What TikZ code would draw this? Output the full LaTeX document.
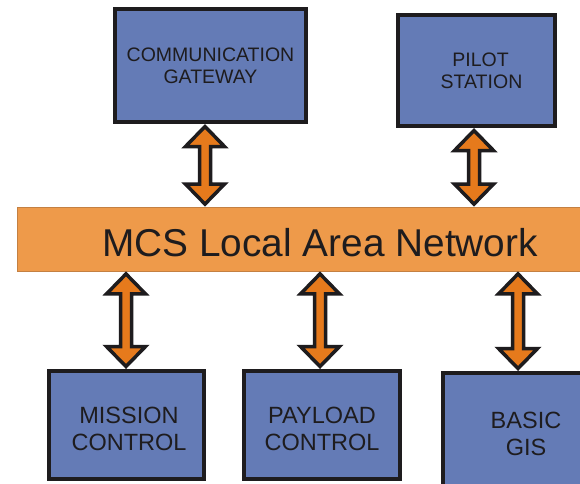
\documentclass[tikz,border=0pt]{standalone}
\usepackage{fontspec}
\setmainfont{Liberation Sans}
\usetikzlibrary{calc}
\definecolor{boxblue}{RGB}{100,123,182}
\definecolor{barorange}{RGB}{238,154,74}
\definecolor{barline}{RGB}{196,128,66}
\definecolor{arroworange}{RGB}{230,122,28}
\definecolor{inkdark}{RGB}{30,28,30}
\begin{document}
\begin{tikzpicture}[x=1pt,y=-1pt,
  unitbox/.style={rectangle, draw=inkdark, fill=boxblue, line width=4pt,
    align=center, text=inkdark, inner sep=0pt},
  smalltxt/.style={font=\fontsize{19.5}{22}\selectfont},
  bigtxt/.style={font=\fontsize{23.5}{27}\selectfont},
  boxlabel/.style={bigtxt, align=center, text=inkdark, inner sep=0pt},
  lanbar/.style={rectangle, draw=barline, fill=barorange, line width=0.8pt,
    text=inkdark, inner sep=0pt, font=\fontsize{38.8}{40}\selectfont,
    text height=34pt, text depth=0pt},
  dbl/.style={draw=inkdark, fill=arroworange, line width=3.5pt, line join=miter,
    to path={let \p1=(\tikztostart), \p2=(\tikztotarget) in
      ({\x1},{\y1-2.5pt}) -- ({\x1+19.5pt},{\y1-22.5pt}) -- ({\x1+5.5pt},{\y1-22.5pt})
      -- ({\x1+5.5pt},{\y2+22.5pt}) -- ({\x1+19.5pt},{\y2+22.5pt}) -- ({\x1},{\y2+2.5pt})
      -- ({\x1-19.5pt},{\y2+22.5pt}) -- ({\x1-5.5pt},{\y2+22.5pt}) -- ({\x1-5.5pt},{\y1-22.5pt})
      -- ({\x1-19.5pt},{\y1-22.5pt}) -- cycle}}
]
\useasboundingbox (0,0) rectangle (580,483);
\fill[white] (0,0) rectangle (580,483);
\clip (0,0) rectangle (580,483);

\node[unitbox, smalltxt, minimum width=191pt, minimum height=113pt] (cg) at (210.5,65.5) {COMMUNICATION\\GATEWAY};
\node[unitbox, smalltxt, minimum width=157pt, minimum height=111pt] (ps) at (476.5,70.5) {\hspace*{8pt}PILOT\\\hspace*{10pt}STATION};

\node[lanbar, minimum width=606pt, minimum height=64pt] (lan) at (320,239) {MCS Local Area Network};

\node[unitbox, minimum width=155pt, minimum height=108pt,
  label={[boxlabel, xshift=2.5pt, yshift=-4pt]center:MISSION\\CONTROL}] (mc) at (126.5,425) {};
\node[unitbox, minimum width=156pt, minimum height=108pt,
  label={[boxlabel, yshift=-4pt]center:PAYLOAD\\CONTROL}] (pc) at (322,425) {};
\node[unitbox, bigtxt, minimum width=166pt, minimum height=122pt] (gis) at (526,434) {BASIC\\GIS};

\draw[dbl] ([xshift=-5.5pt]cg.south) to (lan.north);
\draw[dbl] ([xshift=-2.5pt]ps.south) to (lan.north);
\draw[dbl] ([xshift=-0.5pt]mc.north |- lan.south) to (mc.north);
\draw[dbl] ([xshift=-2pt]pc.north |- lan.south) to (pc.north);
\draw[dbl] ([xshift=-8pt]gis.north |- lan.south) to (gis.north);
\end{tikzpicture}
\end{document}
